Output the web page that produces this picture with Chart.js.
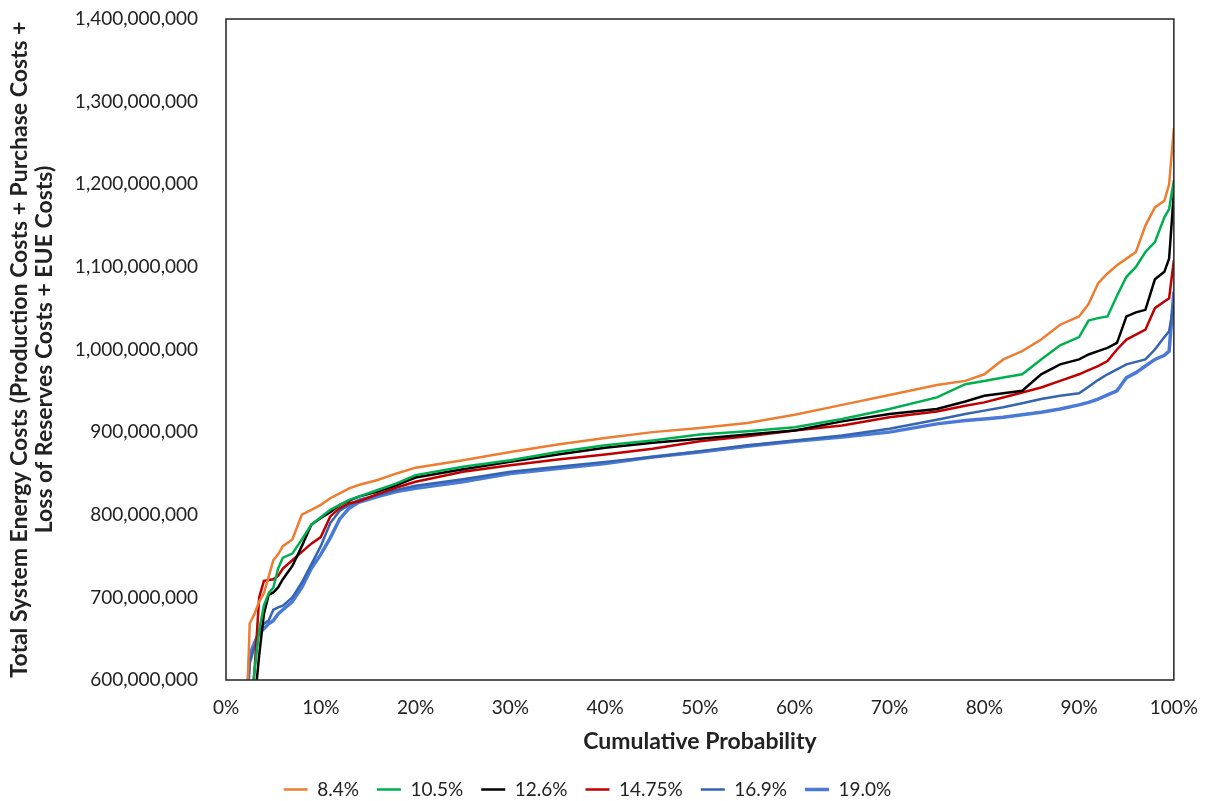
<!DOCTYPE html>
<html>
<head>
<meta charset="utf-8">
<script src="https://cdn.jsdelivr.net/npm/chart.js@4/dist/chart.umd.min.js"></script>
<style>
    html, body { margin: 0; padding: 0; background: #fff; }
    #wrap { width: 1206px; height: 801px; }
</style>
</head>
<body>
<div id="wrap"><canvas id="costChart"></canvas></div>
<script>
// Cumulative probability (%) shared by all series
const probs = [2.2, 2.5, 3, 3.5, 4, 4.5, 5, 5.5, 6, 7, 8, 9, 10, 11, 12, 13, 14, 16, 18, 20,
    25, 30, 35, 40, 45, 50, 55, 60, 65, 70, 75, 78, 80, 82, 84, 86, 88, 90, 91, 92, 93, 94,
    95, 96, 97, 98, 99, 99.5, 100];

// Total system energy costs, millions
const s84 = [560, 668, 680, 695, 705, 725, 745, 752, 762, 770, 800, 806, 812, 820, 826, 832, 836, 842, 850, 857,
    866, 876, 885, 893, 900, 905, 911, 921, 933, 945, 957, 962, 970, 988, 998, 1012, 1030, 1040, 1055, 1080, 1092, 1102,
    1110, 1118, 1150, 1172, 1180, 1200, 1268];
const s105 = [540, 560, 610, 660, 690, 705, 712, 735, 748, 753, 770, 788, 797, 806, 812, 818, 822, 830, 838, 848,
    858, 866, 876, 884, 890, 897, 901, 906, 916, 928, 942, 958, 962, 966, 970, 988, 1005, 1015, 1035, 1038, 1040, 1065,
    1088, 1100, 1118, 1130, 1160, 1170, 1205];
const s126 = [520, 540, 570, 630, 680, 703, 706, 712, 722, 738, 762, 788, 796, 803, 812, 817, 822, 828, 836, 845,
    855, 864, 873, 881, 887, 892, 897, 902, 913, 922, 928, 937, 944, 947, 950, 970, 982, 988, 994, 998, 1002, 1008,
    1040, 1045, 1048, 1085, 1094, 1110, 1190];
const s1475 = [520, 540, 610, 700, 720, 721, 722, 726, 735, 745, 755, 765, 773, 798, 808, 814, 816, 825, 833, 840,
    852, 860, 867, 873, 880, 889, 895, 902, 908, 918, 925, 932, 936, 942, 948, 954, 962, 970, 975, 980, 986, 1000,
    1012, 1018, 1024, 1050, 1058, 1062, 1108];
const s169 = [560, 620, 640, 660, 668, 672, 685, 688, 690, 700, 718, 740, 762, 790, 805, 812, 818, 824, 830, 835,
    843, 852, 858, 864, 870, 877, 884, 890, 896, 904, 915, 922, 926, 930, 935, 940, 944, 947, 955, 963, 970, 976,
    982, 985, 988, 1000, 1015, 1022, 1055];
const s190 = [570, 630, 645, 657, 662, 668, 672, 680, 685, 695, 712, 735, 752, 772, 795, 808, 815, 822, 828, 832,
    840, 850, 856, 862, 870, 876, 883, 889, 894, 900, 910, 914, 916, 918, 921, 924, 928, 933, 936, 940, 945, 950,
    966, 972, 980, 988, 993, 998, 1070];

const seriesLabels = ["8.4%", "10.5%", "12.6%", "14.75%", "16.9%", "19.0%"];
const seriesColors = ["#ED7D31", "#00B050", "#000000", "#C00000", "#3565B0", "#4A7AD6"];
const seriesWidths = [2.5, 2.5, 2.5, 2.5, 2.5, 3.5];
const seriesValues = [s84, s105, s126, s1475, s169, s190];

const yTicks = [600, 700, 800, 900, 1000, 1100, 1200, 1300, 1400];

const FONT = "Lato, 'Open Sans', sans-serif";

// Box around the plot area
const frame = {
    id: "frame",
    afterDatasetsDraw(chart) {
        const a = chart.chartArea;
        const c = chart.ctx;
        c.save();
        c.strokeStyle = "#222";
        c.lineWidth = 1.5;
        c.strokeRect(a.left, a.top, a.right - a.left, a.bottom - a.top);
        c.restore();
    }
};

// Push the legend row a little lower than the layout puts it
const legendNudge = {
    id: "legendNudge",
    afterLayout(chart) {
        const lg = chart.legend;
        if (lg) {
            lg.top += 8;
            lg.bottom += 8;
        }
    }
};

const datasets = seriesValues.map((vals, i) => ({
    label: seriesLabels[i],
    data: vals.map((v, j) => ({ x: probs[j], y: v * 1e6 })),
    borderColor: seriesColors[i],
    backgroundColor: seriesColors[i],
    borderWidth: seriesWidths[i],
    pointRadius: 0,
    tension: 0,
    fill: false
}));

new Chart(document.getElementById("costChart"), {
    type: "line",
    data: { datasets: datasets },
    options: {
        responsive: true,
        maintainAspectRatio: false,
        animation: false,
        layout: { padding: { top: 19, right: 31, left: 0, bottom: 0 } },
        plugins: {
            legend: {
                position: "bottom",
                labels: {
                    usePointStyle: true,
                    pointStyle: "line",
                    pointStyleWidth: 24,
                    color: "#222",
                    padding: 18,
                    font: { family: FONT, size: 19 }
                }
            },
            tooltip: { enabled: false }
        },
        scales: {
            x: {
                type: "linear",
                min: 0,
                max: 100,
                grid: { display: false },
                border: { display: false },
                ticks: {
                    stepSize: 10,
                    color: "#222",
                    padding: 8,
                    font: { family: FONT, size: 19 },
                    callback: (v) => v + "%"
                },
                title: {
                    display: true,
                    text: "Cumulative Probability",
                    color: "#222",
                    padding: { top: 4, bottom: 0 },
                    font: { family: FONT, size: 23, weight: "bold", lineHeight: 1.1 }
                },
                afterFit: (scale) => { scale.height = 74; }
            },
            y: {
                min: 600e6,
                max: 1400e6,
                grid: { display: false },
                border: { display: false },
                afterBuildTicks: (scale) => { scale.ticks = yTicks.map((v) => ({ value: v * 1e6 })); },
                ticks: {
                    color: "#222",
                    padding: 20,
                    font: { family: FONT, size: 19 },
                    callback: (v) => v.toLocaleString("en-US")
                },
                title: {
                    display: true,
                    text: ["Total System Energy Costs (Production Costs + Purchase Costs +",
                        "Loss of Reserves Costs + EUE Costs)"],
                    color: "#222",
                    padding: { top: 7, bottom: 0 },
                    font: { family: FONT, size: 23, weight: "bold", lineHeight: 1.1 }
                },
                afterFit: (scale) => {
                    scale.width = 226;
                    scale.paddingTop = 0;
                    scale.paddingBottom = 0;
                }
            }
        }
    },
    plugins: [frame, legendNudge]
});
</script>
</body>
</html>
